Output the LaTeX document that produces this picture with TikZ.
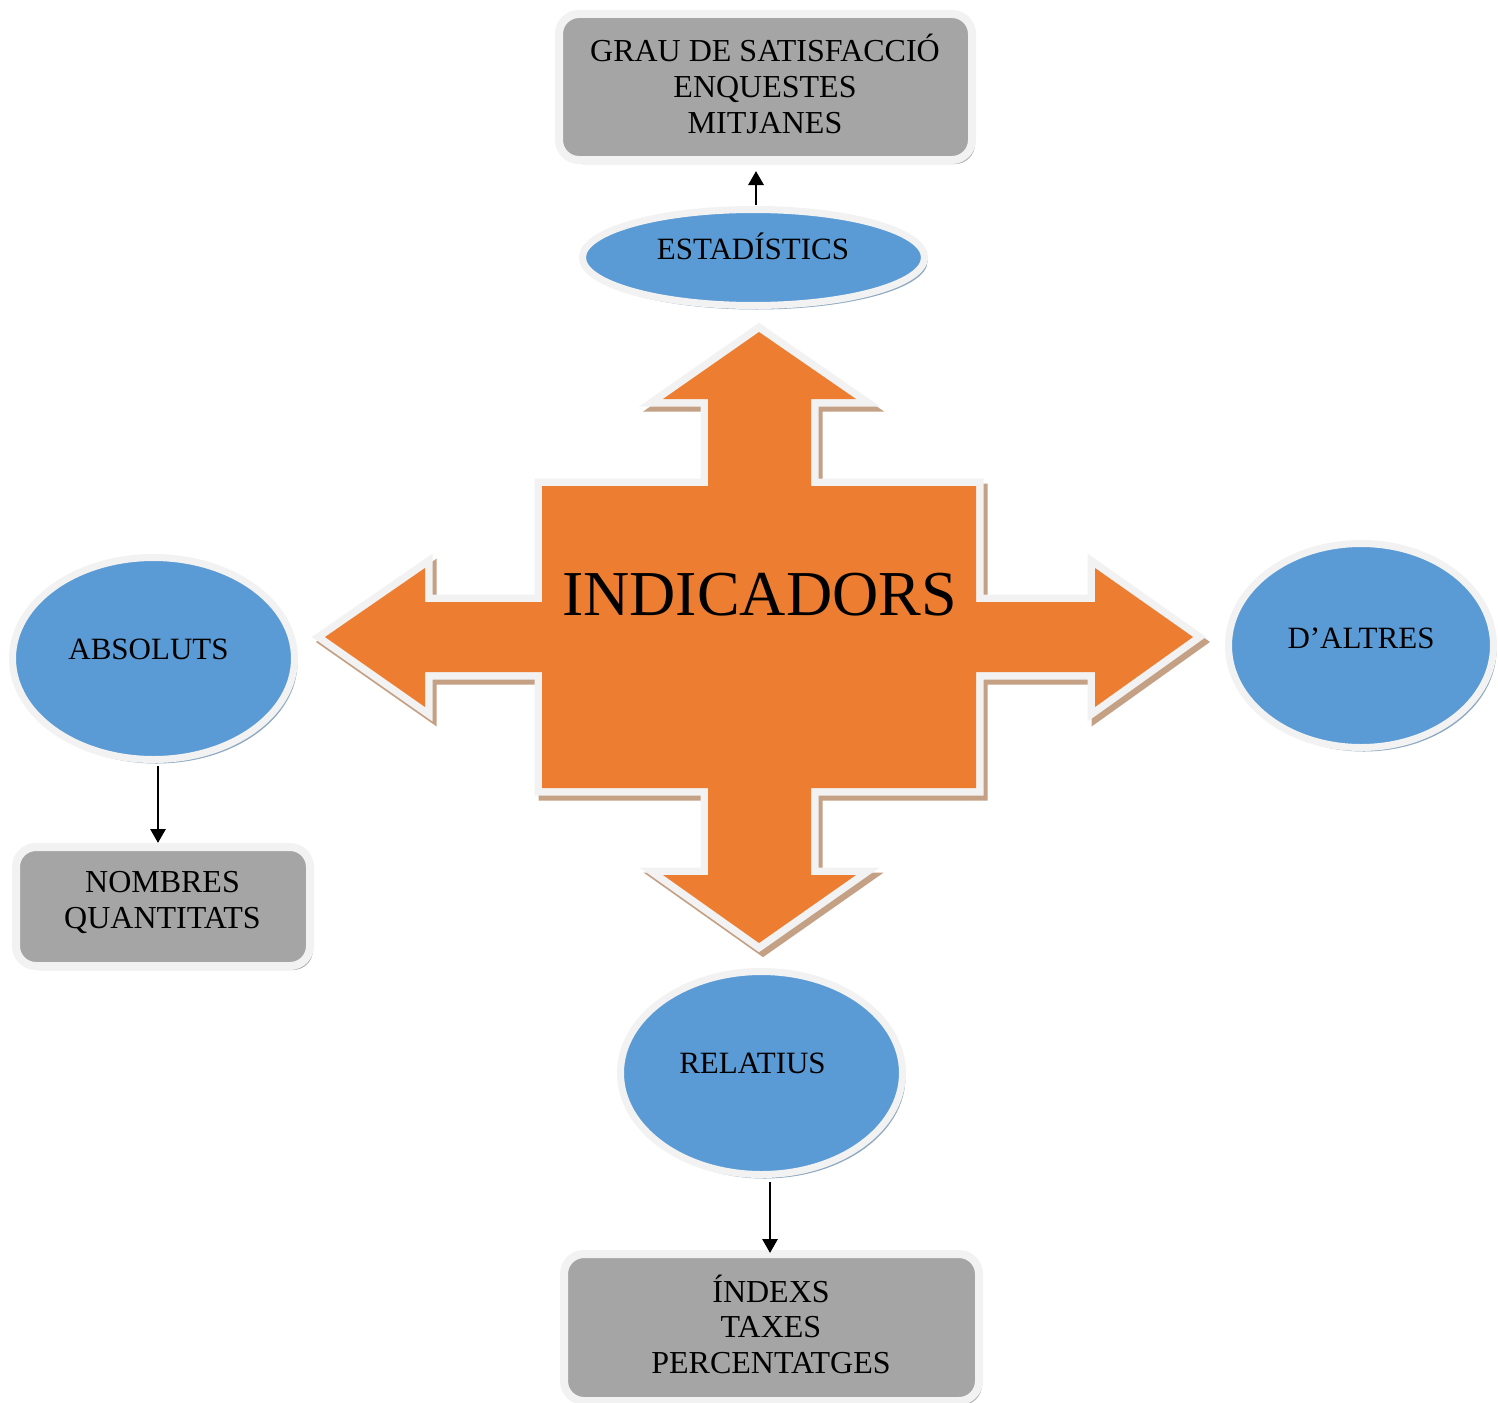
\documentclass[tikz,border=0pt]{standalone}
\usepackage{fontspec}
\setmainfont{Liberation Serif}
\usetikzlibrary{shapes.geometric,shadows,arrows.meta}
\definecolor{orng}{HTML}{ED7D31}
\definecolor{orngshadow}{HTML}{C4A084}
\definecolor{bluefill}{HTML}{5B9BD5}
\definecolor{blueshadow}{HTML}{8DA8C2}
\definecolor{boxgray}{HTML}{A5A5A5}
\definecolor{boxshadow}{HTML}{ABABAB}
\definecolor{rimwhite}{HTML}{F2F2F2}
\newcommand\lnx[1]{\smash{#1}}
\newcommand\crosspath{(759,332) -- (856,399) -- (811,399) -- (811,486) -- (976,486) -- (976,602) -- (1095,602) -- (1095,568) -- (1193,637) -- (1095,707) -- (1095,672) -- (976,672) -- (976,788) -- (811,788) -- (811,875) -- (856,875) -- (759,943) -- (663,875) -- (708,875) -- (708,788) -- (542,788) -- (542,672) -- (425,672) -- (425,707) -- (325,637) -- (425,568) -- (425,602) -- (542,602) -- (542,486) -- (708,486) -- (708,399) -- (663,399) -- cycle}
\begin{document}
\begin{tikzpicture}[x=1pt,y=-1pt,
  graybox/.style={rectangle, rounded corners=20pt, fill=boxgray, draw=rimwhite, line width=8pt, inner sep=0pt,
    drop shadow={shadow xshift=3pt, shadow yshift=-4pt, fill=boxshadow, opacity=1}},
  blueell/.style={ellipse, fill=bluefill, draw=rimwhite, line width=7pt, inner sep=0pt,
    drop shadow={shadow xshift=3pt, shadow yshift=-4pt, fill=blueshadow, opacity=1}},
  lbl/.style={font=\fontsize{31}{35.5}\selectfont, inner sep=0pt, text=black},
  boxlbl/.style={font=\fontsize{32}{35.5}\selectfont, inner sep=0pt, text=black, align=center},
  conn/.style={draw=black, line width=2.9pt, -{Triangle[width=15pt,length=14pt]}}
]
\useasboundingbox (0,0) rectangle (1498,1402);
\fill[white] (0,0) rectangle (1498,1402);

% central cross arrow
\begin{scope}[shift={(4,5)}]
  \filldraw[fill=orngshadow, draw=orngshadow, line width=15pt, line join=miter] \crosspath;
\end{scope}
\filldraw[fill=rimwhite, draw=rimwhite, line width=15pt, line join=miter] \crosspath;
\fill[orng] \crosspath;
\node[font=\fontsize{64}{70}\selectfont, inner sep=0pt, anchor=base] (ind) at (759.5,615) {INDICADORS};

% boxes
\node[graybox, minimum width=413pt, minimum height=146pt] (topbox) at (765.5,87) {};
\node[boxlbl] (topT) at (765,97.5) {\lnx{GRAU DE SATISFACCIÓ}\\\lnx{ENQUESTES}\\\lnx{MITJANES}};

\node[graybox, minimum width=294pt, minimum height=119pt] (nom) at (163,906.5) {};
\node[boxlbl, font=\fontsize{32}{36}\selectfont] (nomT) at (162.5,910) {\lnx{NOMBRES}\\\lnx{QUANTITATS}};

\node[graybox, minimum width=415pt, minimum height=147pt] (idx) at (771.5,1327.5) {};
\node[boxlbl] (idxT) at (771,1337.5) {\lnx{ÍNDEXS}\\\lnx{TAXES}\\\lnx{PERCENTATGES}};

% ellipses
\node[blueell, minimum width=342pt, minimum height=96pt] (est) at (753.5,257.5) {};
\node[lbl, anchor=base] (estT) at (753,259) {ESTADÍSTICS};

\node[blueell, minimum width=282pt, minimum height=202pt] (abs) at (153.5,658.5) {};
\node[lbl, anchor=base] (absT) at (148.5,659) {ABSOLUTS};

\node[blueell, minimum width=265pt, minimum height=204pt] (dal) at (1361,645.5) {};
\node[lbl, anchor=base] (dalT) at (1361,648) {D’ALTRES};

\node[blueell, minimum width=282pt, minimum height=203pt] (rel) at (761.5,1073) {};
\node[lbl, anchor=base] (relT) at (752.5,1073) {RELATIUS};

% connectors
\draw[conn] ([xshift=2.5pt,yshift=1pt]est.north) -- ([xshift=-9.5pt,yshift=-7pt]topbox.south);
\draw[conn] ([xshift=4.5pt,yshift=-3pt]abs.south) -- ([xshift=-5pt]nom.north);
\draw[conn] ([xshift=8.5pt,yshift=-4pt]rel.south) -- ([xshift=-1.5pt,yshift=-3pt]idx.north);
\end{tikzpicture}
\end{document}
